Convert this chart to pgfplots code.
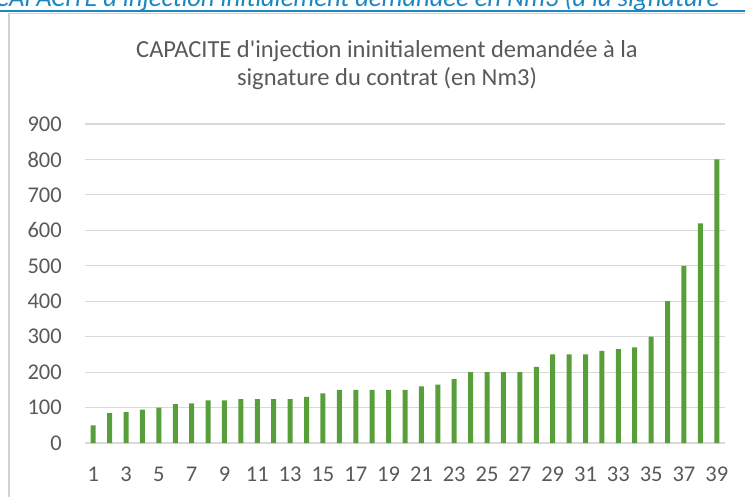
\documentclass[border=0pt]{standalone}
\usepackage{pgfplots}
\pgfplotsset{compat=1.18}
\usepackage{fontspec}
\setmainfont{Carlito}
\definecolor{barg}{RGB}{88,158,58}
\definecolor{gridg}{RGB}{217,217,217}
\definecolor{txtg}{RGB}{89,89,89}
\definecolor{capblue}{RGB}{25,135,195}
\definecolor{frameg}{RGB}{210,210,210}
\begin{document}
\begin{tikzpicture}[x=1pt,y=1pt]
\useasboundingbox (0,0) rectangle (745,496);
\begin{scope}
\clip (0,0) rectangle (745,496);
\node[anchor=base west, inner sep=0, text=capblue, font=\fontsize{26.5}{30}\selectfont\itshape] at (-5,489.5) {CAPACITE d\textquotesingle injection initialement demandée en Nm3 (à la signature};
\draw[capblue, line width=1.6pt] (-5,485) -- (760,485);
\draw[frameg, line width=1.5pt] (8.75,-20) -- (8.75,482.5) -- (770,482.5);
\end{scope}
\node[anchor=base, inner sep=0, text=txtg, font=\fontsize{24.5}{28}\selectfont] at (387,438.5) {CAPACITE d\textquotesingle injection ininitialement demandée à la};
\node[anchor=base, inner sep=0, text=txtg, font=\fontsize{24.5}{28}\selectfont] at (387,410) {signature du contrat (en Nm3)};
\begin{axis}[
  at={(85pt,53pt)}, anchor=south west,
  scale only axis, width=640pt, height=319pt,
  xmin=0.5, xmax=39.5, ymin=0, ymax=900,
  ytick={0,100,...,900}, xtick={1,3,...,39},
  ymajorgrids, grid style={gridg, line width=1.2pt},
  axis line style={draw=none},
  major tick length=0pt,
  tick label style={text=txtg, font=\fontsize{22.5}{26}\selectfont},
  yticklabel style={anchor=east, inner sep=0pt, xshift=-23pt},
  xticklabel style={anchor=north, inner sep=0pt, yshift=-24pt},
  /pgf/number format/assume math mode=true,
  clip=false,
]
\addplot[ybar, bar width=5pt, fill=barg, draw=none] coordinates {
(1,50) (2,84) (3,87) (4,94) (5,100) (6,110) (7,112) (8,120) (9,120) (10,124)
(11,124) (12,124) (13,124) (14,130) (15,140) (16,150) (17,150) (18,150) (19,150) (20,150)
(21,160) (22,165) (23,180) (24,200) (25,200) (26,200) (27,200) (28,215) (29,250) (30,250)
(31,250) (32,260) (33,265) (34,270) (35,300) (36,400) (37,500) (38,620) (39,800)
};
\end{axis}
\end{tikzpicture}
\end{document}
